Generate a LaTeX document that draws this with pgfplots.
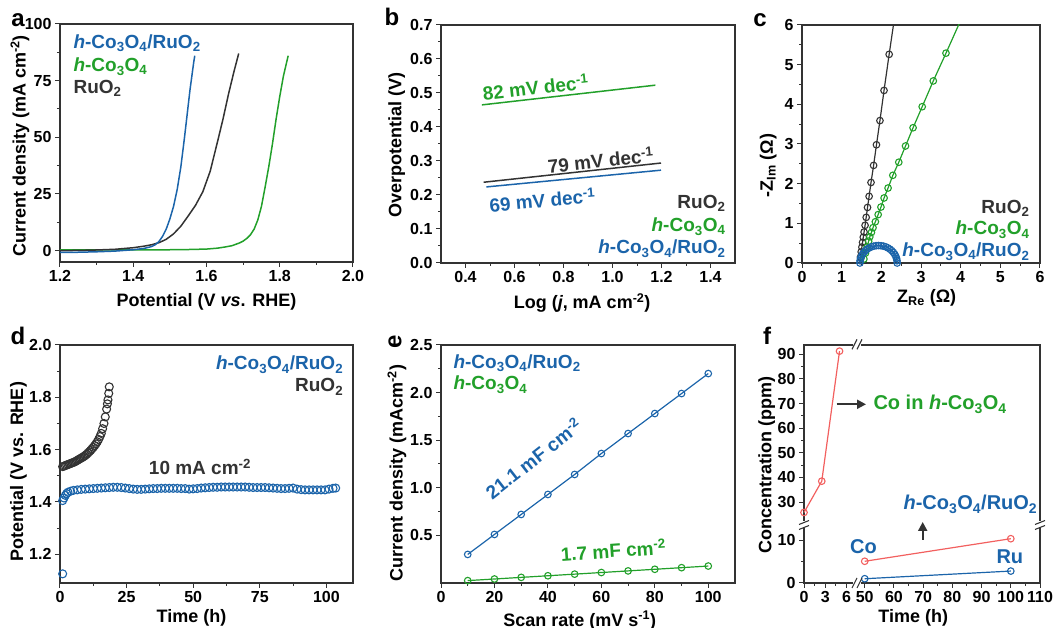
\documentclass[border=0pt]{standalone}
\usepackage{fontspec}
\setmainfont{Liberation Sans}
\usepackage{pgfplots}
\usepackage{pgfplotstable}
\pgfplotsset{compat=1.18}
\usetikzlibrary{arrows.meta}

\definecolor{cblue}{HTML}{1B64AA}
\definecolor{cgreen}{HTML}{22A02A}
\definecolor{cblack}{HTML}{333333}
\definecolor{cred}{HTML}{F2605F}
\definecolor{cframe}{HTML}{333333}

\newcommand{\hCo}{\textit{h}-Co\textsubscript{3}O\textsubscript{4}}
\newcommand{\RuO}{RuO\textsubscript{2}}
\newcommand{\fsz}[1]{\fontsize{#1}{#1}\selectfont\bfseries}

\pgfplotsset{
  panel/.style={
    scale only axis, anchor=south west,
    axis line style={line width=1.3pt, draw=cframe},
    tick style={line width=1pt, cframe},
    tick align=outside, tick pos=left,
    major tick length=5pt, minor tick length=3pt,
    minor tick num=1,
    ticklabel style={font=\fsz{16}},
    label style={font=\fsz{18}},
    xlabel style={anchor=center}, ylabel style={anchor=center},
    /pgf/number format/assume math mode=true,
  },
  dec1/.style={/pgf/number format/.cd, fixed, fixed zerofill, precision=1},
  ring/.style={mark=o, mark size=3.3pt, line width=1.2pt, mark options={fill=white, line width=1.1pt}},
}

% panel c, Nyquist data
\pgfplotstableread{
x y
1.450 0.00
1.475 0.15
1.492 0.28
1.510 0.40
1.527 0.52
1.545 0.65
1.565 0.78
1.590 0.95
1.618 1.15
1.652 1.40
1.692 1.68
1.740 2.03
1.805 2.46
1.877 2.98
1.965 3.59
2.068 4.35
2.197 5.26
2.320 6.10
}\nyqRu
\pgfplotstableread{
x y
1.52 0.00
1.56 0.10
1.60 0.25
1.64 0.40
1.68 0.55
1.71 0.66
1.75 0.77
1.79 0.89
1.85 1.04
1.92 1.22
1.99 1.41
2.07 1.64
2.17 1.89
2.29 2.21
2.44 2.54
2.61 2.95
2.80 3.41
3.03 3.94
3.31 4.59
3.63 5.29
3.97 6.05
}\nyqCo
\pgfplotstableread{
x y
1.460 0.000
1.464 0.057
1.476 0.114
1.496 0.168
1.523 0.220
1.557 0.268
1.598 0.311
1.644 0.349
1.695 0.381
1.750 0.407
1.808 0.425
1.869 0.436
1.930 0.440
1.991 0.436
2.052 0.425
2.110 0.407
2.165 0.381
2.216 0.349
2.262 0.311
2.303 0.268
2.337 0.220
2.364 0.168
2.384 0.114
2.396 0.057
2.400 0.000
}\nyqCoRu

% panel d, chronopotentiometry
\pgfplotstableread{
t V
1.0 1.535
1.5 1.537
2.0 1.539
2.5 1.541
3.0 1.543
3.5 1.545
4.0 1.547
4.5 1.549
5.0 1.551
5.5 1.553
6.0 1.556
6.5 1.559
7.0 1.562
7.5 1.565
8.0 1.568
8.5 1.571
9.0 1.574
9.5 1.578
10.0 1.582
10.5 1.587
11.0 1.592
11.5 1.597
12.0 1.603
12.5 1.609
13.0 1.615
13.5 1.622
14.0 1.630
14.5 1.639
15.0 1.650
15.5 1.662
16.0 1.680
16.5 1.700
17.0 1.725
17.5 1.755
17.8 1.775
18.0 1.790
18.3 1.815
18.5 1.840
}\stabRu
\pgfplotstableread{
t V
1.0 1.125
1.0 1.405
1.5 1.415
2.0 1.425
2.5 1.432
3.0 1.437
4.0 1.441
5.0 1.444
6.5 1.446
8.0 1.448
9.5 1.449
11.0 1.450
12.5 1.451
14.0 1.452
15.5 1.453
17.0 1.454
18.5 1.455
20.0 1.456
21.5 1.456
23.0 1.455
24.5 1.453
26.0 1.451
27.5 1.449
29.0 1.448
30.5 1.448
32.0 1.449
33.5 1.450
35.0 1.451
36.5 1.451
38.0 1.452
39.5 1.452
41.0 1.452
42.5 1.452
44.0 1.452
45.5 1.451
47.0 1.451
48.5 1.449
50.0 1.450
51.5 1.451
53.0 1.453
54.5 1.454
56.0 1.455
57.5 1.456
59.0 1.456
60.5 1.457
62.0 1.457
63.5 1.457
65.0 1.457
66.5 1.457
68.0 1.457
69.5 1.457
71.0 1.456
72.5 1.455
74.0 1.455
75.5 1.455
77.0 1.455
78.5 1.454
80.0 1.453
81.5 1.452
83.0 1.451
84.5 1.451
86.0 1.452
87.5 1.453
89.0 1.449
90.5 1.447
92.0 1.446
93.5 1.446
95.0 1.446
96.5 1.446
98.0 1.446
99.5 1.446
101.0 1.449
102.5 1.452
103.5 1.453
}\stabCoRu

\begin{document}
\begin{tikzpicture}
\useasboundingbox (0,0) rectangle (1053pt,628pt);

% ---- a: LSV
\begin{axis}[panel, at={(60pt,366pt)}, width=293pt, height=238pt,
  xmin=1.2, xmax=2.0, ymin=-5, ymax=100,
  xtick={1.2,1.4,1.6,1.8,2.0}, ytick={0,25,50,75,100},
  xticklabel style={dec1},
  xlabel={Potential (V \textit{vs}. RHE)},
  ylabel={Current density (mA cm\textsuperscript{-2})},
  xlabel style={at={(axis description cs:0.5,-0.167)}},
  ylabel style={at={(axis description cs:-0.137,0.487)}},
]
\addplot[cgreen, line width=1.5pt] coordinates {
 (1.20,0.3) (1.30,0.3) (1.40,0.35) (1.50,0.4) (1.55,0.5) (1.60,0.7) (1.63,1.1)
 (1.65,1.6) (1.67,2.2) (1.69,3.4) (1.70,4.2) (1.71,5.4) (1.72,7.0) (1.73,9.5)
 (1.74,13.5) (1.75,19.5) (1.76,28) (1.77,37) (1.78,47) (1.79,58) (1.80,68)
 (1.81,77) (1.823,86)};
\addplot[cblack, line width=1.5pt] coordinates {
 (1.20,0.0) (1.25,0.1) (1.30,0.3) (1.35,0.6) (1.40,1.3) (1.43,2.0) (1.45,2.6)
 (1.47,3.5) (1.49,5.0) (1.51,7.4) (1.53,10.8) (1.55,15.3) (1.57,20.0) (1.59,26)
 (1.61,35) (1.63,48) (1.645,58) (1.66,69) (1.675,79) (1.688,87)};
\addplot[cblue, line width=1.5pt] coordinates {
 (1.20,-0.8) (1.25,-0.7) (1.30,-0.5) (1.35,-0.2) (1.40,0.4) (1.43,1.0) (1.45,1.8)
 (1.46,2.6) (1.47,4.0) (1.48,6.3) (1.49,9.5) (1.50,14.0) (1.51,19.5) (1.52,27)
 (1.53,37) (1.54,50) (1.55,64) (1.555,71) (1.56,77) (1.565,83) (1.568,86)};
\end{axis}

% ---- b: Tafel
\begin{axis}[panel, at={(441pt,365pt)}, width=294pt, height=238pt,
  xmin=0.3, xmax=1.5, ymin=0, ymax=0.7,
  xtick={0.4,0.6,0.8,1.0,1.2,1.4}, ytick={0,0.1,0.2,0.3,0.4,0.5,0.6,0.7},
  xticklabel style={dec1}, yticklabel style={dec1},
  xlabel={Log (\textit{j}, mA cm\textsuperscript{-2})},
  ylabel={Overpotential (V)},
  xlabel style={at={(axis description cs:0.48,-0.167)}},
  ylabel style={at={(axis description cs:-0.151,0.496)}},
]
\addplot[cgreen, line width=1.5pt] coordinates {(0.467,0.465) (1.175,0.523)};
\addplot[cblack, line width=1.5pt] coordinates {(0.474,0.2375) (1.198,0.294)};
\addplot[cblue, line width=1.5pt] coordinates {(0.485,0.2237) (1.198,0.273)};
\end{axis}

% ---- c: Nyquist
\begin{axis}[panel, at={(802pt,365pt)}, width=238pt, height=238pt,
  xmin=0, xmax=6, ymin=0, ymax=6,
  xtick={0,1,...,6}, ytick={0,1,...,6},
  xlabel={Z\textsubscript{Re} (Ω)},
  ylabel={-Z\textsubscript{Im} (Ω)},
  xlabel style={at={(axis description cs:0.524,-0.148)}},
  ylabel style={at={(axis description cs:-0.142,0.41)}},
]
\addplot[cblack, ring, mark indices={2,3,...,17}] table {\nyqRu};
\addplot[cgreen, ring, mark indices={2,3,...,20}] table {\nyqCo};
\addplot[cblue, ring] table {\nyqCoRu};
\end{axis}

% ---- d: stability
\begin{axis}[panel, at={(60pt,45pt)}, width=293pt, height=238pt,
  xmin=0, xmax=110, ymin=1.09, ymax=2.0,
  xtick={0,25,50,75,100}, ytick={1.2,1.4,1.6,1.8,2.0},
  yticklabel style={dec1},
  xlabel={Time (h)},
  ylabel={Potential (V vs. RHE)},
  xlabel style={at={(axis description cs:0.449,-0.148)}},
  ylabel style={at={(axis description cs:-0.142,0.467)}},
]
\addplot[cblack, only marks, mark=o, mark size=4pt, mark options={line width=1.1pt}] table {\stabRu};
\addplot[cblue, only marks, mark=o, mark size=4pt, mark options={line width=1.1pt}] table {\stabCoRu};
\end{axis}

% ---- e: double-layer capacitance
\begin{axis}[panel, at={(441pt,45pt)}, width=294pt, height=238pt,
  xmin=0, xmax=110, ymin=0, ymax=2.5,
  xtick={0,20,...,100}, ytick={0.5,1.0,1.5,2.0,2.5},
  yticklabel style={dec1},
  xlabel={Scan rate (mV s\textsuperscript{-1})},
  ylabel={Current density (mAcm\textsuperscript{-2})},
  xlabel style={at={(axis description cs:0.472,-0.158)}},
  ylabel style={at={(axis description cs:-0.150,0.461)}},
]
\addplot[cblue, ring] coordinates {
 (10,0.30) (20,0.51) (30,0.72) (40,0.93) (50,1.14) (60,1.36) (70,1.57) (80,1.78) (90,1.99) (100,2.20)};
\addplot[cgreen, ring] coordinates {
 (10,0.025) (20,0.042) (30,0.059) (40,0.076) (50,0.093) (60,0.110) (70,0.127) (80,0.144) (90,0.161) (100,0.178)};
\end{axis}

% ---- f: dissolution, broken axes
\begin{axis}[panel, at={(804pt,45pt)}, width=236pt, height=238pt,
  xmin=0, xmax=1, ymin=0, ymax=1, xtick=\empty, ytick=\empty,
  xlabel={Time (h)}, ylabel={Concentration (ppm)},
  xlabel style={at={(axis description cs:0.463,-0.148)}},
  ylabel style={at={(axis description cs:-0.158,0.495)}},
]
\end{axis}
\begin{axis}[panel, at={(804pt,102.5pt)}, width=54pt, height=181pt,
  xmin=0, xmax=7.6, ymin=20.5, ymax=94, clip=false,
  axis line style={draw=none}, xtick=\empty, ytick={30,40,...,90},
]
\addplot[cred, ring] coordinates {(0,25.8) (2.5,38.5) (5,91.3)};
\end{axis}
\begin{axis}[panel, at={(804pt,45pt)}, width=54pt, height=57.5pt,
  xmin=0, xmax=7.6, ymin=0, ymax=13.5,
  axis line style={draw=none}, xtick={0,3,6}, ytick={0,10},
]
\end{axis}
\begin{axis}[panel, at={(858pt,45pt)}, width=182pt, height=57.5pt,
  xmin=47.7, xmax=110, ymin=0, ymax=13.5, clip=false,
  axis line style={draw=none}, xtick={50,60,...,110}, ytick=\empty,
]
\addplot[cred, ring] coordinates {(50,5.1) (100,10.4)};
\addplot[cblue, ring] coordinates {(50,1.0) (100,2.8)};
\end{axis}

% axis breaks in f
\foreach \bx/\by in {858/283.7, 858/45} {
  \fill[white] (\bx pt-5pt,\by pt-3pt) rectangle (\bx pt+3pt,\by pt+3pt);
  \draw[cframe, line width=1.1pt] (\bx pt-6pt,\by pt-5pt) -- (\bx pt-1pt,\by pt+5pt);
  \draw[cframe, line width=1.1pt] (\bx pt-1pt,\by pt-5pt) -- (\bx pt+4pt,\by pt+5pt);
}
\foreach \bx/\by in {804/102.5, 1040/102.5} {
  \fill[white] (\bx pt-3pt,\by pt-3pt) rectangle (\bx pt+3pt,\by pt+4pt);
  \draw[cframe, line width=1.1pt] (\bx pt-5pt,\by pt-4pt) -- (\bx pt+5pt,\by pt+0pt);
  \draw[cframe, line width=1.1pt] (\bx pt-5pt,\by pt+1pt) -- (\bx pt+5pt,\by pt+5pt);
}

% panel letters
\node[anchor=base, font=\fsz{24}] at (18pt,601pt) {a};
\node[anchor=base, font=\fsz{24}] at (392pt,602pt) {b};
\node[anchor=base, font=\fsz{24}] at (760pt,601pt) {c};
\node[anchor=base, font=\fsz{24}] at (18pt,283pt) {d};
\node[anchor=center, rotate=90, font=\fsz{24}] at (395pt,286pt) {e};
\node[anchor=base, font=\fsz{24}] at (767pt,283pt) {f};

% a labels
\node[anchor=base west, font=\fsz{19}, text=cblue] at (70pt,579.7pt) {\hCo/\RuO};
\node[anchor=base west, font=\fsz{19}, text=cgreen] at (70pt,556.3pt) {\hCo};
\node[anchor=base west, font=\fsz{19}, text=cblack] at (70pt,534.7pt) {\RuO};

% b labels
\node[anchor=base east, font=\fsz{19}, text=cblack] at (729pt,419.7pt) {\RuO};
\node[anchor=base east, font=\fsz{19}, text=cgreen] at (729pt,396.3pt) {\hCo};
\node[anchor=base east, font=\fsz{19}, text=cblue] at (729pt,374pt) {\hCo/\RuO};
\node[font=\fsz{19}, text=cgreen, rotate=6.5] at (535.7pt,540.7pt) {82 mV dec\textsuperscript{-1}};
\node[font=\fsz{19}, text=cblack, rotate=6] at (600.7pt,468pt) {79 mV dec\textsuperscript{-1}};
\node[font=\fsz{19}, text=cblue, rotate=5] at (542.3pt,428pt) {69 mV dec\textsuperscript{-1}};

% c labels
\node[anchor=base east, font=\fsz{19}, text=cblack] at (1033pt,414.7pt) {\RuO};
\node[anchor=base east, font=\fsz{19}, text=cgreen] at (1033pt,393pt) {\hCo};
\node[anchor=base east, font=\fsz{19}, text=cblue] at (1033pt,371.3pt) {\hCo/\RuO};

% d labels
\node[anchor=base east, font=\fsz{19}, text=cblue] at (346.7pt,258pt) {\hCo/\RuO};
\node[anchor=base east, font=\fsz{19}, text=cblack] at (346.7pt,236.3pt) {\RuO};
\node[anchor=base, font=\fsz{19}, text=cblack] at (200pt,153pt) {10 mA cm\textsuperscript{-2}};

% e labels
\node[anchor=base west, font=\fsz{19}, text=cblue] at (450pt,259.7pt) {\hCo/\RuO};
\node[anchor=base west, font=\fsz{19}, text=cgreen] at (450pt,238pt) {\hCo};
\node[font=\fsz{19}, text=cblue, rotate=38] at (533.3pt,169.7pt) {21.1 mF cm\textsuperscript{-2}};
\node[font=\fsz{19}, text=cgreen, rotate=4] at (613.3pt,78pt) {1.7 mF cm\textsuperscript{-2}};

% f labels
\draw[cblack, line width=2pt, -{Triangle[length=9pt,width=9pt]}] (836.7pt,223.7pt) -- (866pt,223.7pt);
\node[anchor=base west, font=\fsz{20}, text=cgreen] at (870pt,218pt) {Co in \hCo};
\node[anchor=base west, font=\fsz{20}, text=cblue] at (900pt,118pt) {\hCo/\RuO};
\draw[cblack, line width=2pt, -{Triangle[length=9pt,width=9pt]}] (922.7pt,88pt) -- (922.7pt,106pt);
\node[anchor=base west, font=\fsz{20}, text=cblue] at (846.7pt,74.7pt) {Co};
\node[anchor=base west, font=\fsz{20}, text=cblue] at (993pt,64.7pt) {Ru};
\end{tikzpicture}
\end{document}
